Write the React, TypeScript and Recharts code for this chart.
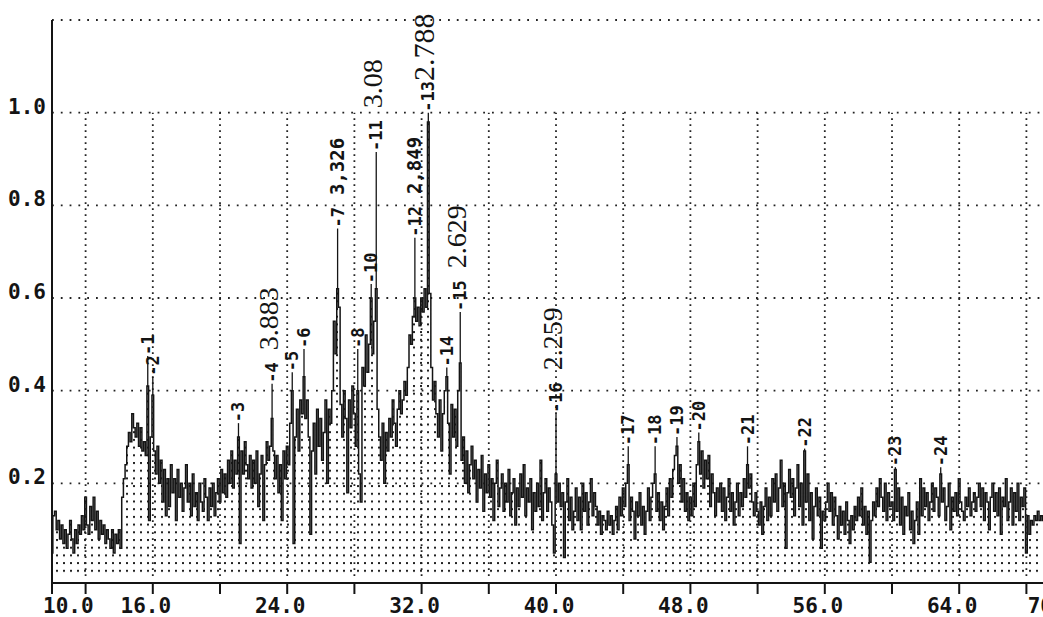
import React from "react";
import { ComposedChart, Area, XAxis, YAxis, CartesianGrid, ReferenceLine, ReferenceDot } from "recharts";

// scan: 10.0 .. 70.0 deg 2-theta, 0.1 deg step
const SCAN_START = 10;
const SCAN_STEP = 0.1;

// relative intensity, one row per degree
const INTENSITY = [
  0.05, 0.13, 0.14, 0.10, 0.12, 0.08, 0.11, 0.07, 0.10, 0.06, // 10
  0.09, 0.12, 0.08, 0.05, 0.10, 0.07, 0.11, 0.09, 0.13, 0.10, // 11
  0.17, 0.11, 0.09, 0.15, 0.12, 0.17, 0.10, 0.14, 0.08, 0.12, // 12
  0.09, 0.11, 0.07, 0.10, 0.08, 0.06, 0.10, 0.05, 0.09, 0.07, // 13
  0.10, 0.06, 0.17, 0.21, 0.24, 0.28, 0.31, 0.29, 0.35, 0.32, // 14
  0.30, 0.33, 0.28, 0.32, 0.27, 0.29, 0.26, 0.41, 0.12, 0.30, // 15
  0.39, 0.27, 0.22, 0.28, 0.20, 0.25, 0.16, 0.23, 0.13, 0.21, // 16
  0.15, 0.24, 0.18, 0.21, 0.12, 0.23, 0.17, 0.20, 0.14, 0.19, // 17
  0.24, 0.16, 0.20, 0.13, 0.22, 0.15, 0.18, 0.12, 0.20, 0.16, // 18
  0.14, 0.21, 0.17, 0.12, 0.19, 0.15, 0.20, 0.13, 0.18, 0.21, // 19
  0.16, 0.23, 0.18, 0.22, 0.17, 0.25, 0.20, 0.27, 0.19, 0.25, // 20
  0.22, 0.30, 0.07, 0.27, 0.22, 0.29, 0.24, 0.21, 0.26, 0.19, // 21
  0.25, 0.20, 0.27, 0.15, 0.22, 0.26, 0.12, 0.24, 0.29, 0.25, // 22
  0.28, 0.34, 0.27, 0.21, 0.26, 0.18, 0.24, 0.12, 0.27, 0.21, // 23
  0.28, 0.24, 0.33, 0.40, 0.07, 0.30, 0.36, 0.27, 0.38, 0.35, // 24
  0.43, 0.34, 0.38, 0.30, 0.09, 0.27, 0.33, 0.22, 0.36, 0.28, // 25
  0.34, 0.25, 0.31, 0.38, 0.20, 0.36, 0.33, 0.40, 0.55, 0.48, // 26
  0.62, 0.58, 0.37, 0.30, 0.40, 0.34, 0.18, 0.38, 0.32, 0.41, // 27
  0.35, 0.28, 0.40, 0.22, 0.16, 0.45, 0.41, 0.52, 0.44, 0.50, // 28
  0.60, 0.48, 0.55, 0.62, 0.36, 0.30, 0.25, 0.33, 0.20, 0.31, // 29
  0.27, 0.34, 0.30, 0.38, 0.33, 0.28, 0.36, 0.40, 0.35, 0.38, // 30
  0.42, 0.39, 0.45, 0.52, 0.50, 0.56, 0.60, 0.55, 0.58, 0.54, // 31
  0.60, 0.57, 0.62, 0.58, 0.98, 0.61, 0.45, 0.38, 0.42, 0.35, // 32
  0.30, 0.38, 0.27, 0.35, 0.40, 0.43, 0.33, 0.22, 0.37, 0.30, // 33
  0.36, 0.28, 0.40, 0.46, 0.25, 0.30, 0.20, 0.27, 0.18, 0.24, // 34
  0.28, 0.21, 0.25, 0.16, 0.23, 0.19, 0.26, 0.14, 0.22, 0.18, // 35
  0.24, 0.17, 0.21, 0.12, 0.20, 0.25, 0.15, 0.19, 0.22, 0.14, // 36
  0.20, 0.16, 0.23, 0.13, 0.18, 0.21, 0.11, 0.19, 0.15, 0.22, // 37
  0.17, 0.24, 0.13, 0.19, 0.16, 0.21, 0.10, 0.18, 0.14, 0.20, // 38
  0.15, 0.25, 0.12, 0.18, 0.21, 0.14, 0.19, 0.16, 0.11, 0.05, // 39
  0.22, 0.16, 0.20, 0.15, 0.18, 0.04, 0.16, 0.21, 0.12, 0.17, // 40
  0.10, 0.14, 0.19, 0.12, 0.17, 0.10, 0.20, 0.14, 0.18, 0.11, // 41
  0.16, 0.21, 0.13, 0.18, 0.15, 0.11, 0.14, 0.09, 0.13, 0.12, // 42
  0.10, 0.14, 0.11, 0.13, 0.09, 0.12, 0.15, 0.10, 0.17, 0.13, // 43
  0.19, 0.15, 0.20, 0.24, 0.12, 0.17, 0.14, 0.08, 0.16, 0.13, // 44
  0.18, 0.11, 0.15, 0.09, 0.14, 0.19, 0.12, 0.17, 0.20, 0.22, // 45
  0.14, 0.18, 0.12, 0.16, 0.10, 0.15, 0.19, 0.13, 0.21, 0.17, // 46
  0.23, 0.26, 0.28, 0.20, 0.24, 0.16, 0.21, 0.14, 0.18, 0.12, // 47
  0.17, 0.13, 0.20, 0.15, 0.24, 0.29, 0.22, 0.27, 0.19, 0.25, // 48
  0.21, 0.26, 0.15, 0.22, 0.18, 0.13, 0.19, 0.16, 0.20, 0.14, // 49
  0.19, 0.12, 0.17, 0.21, 0.14, 0.18, 0.11, 0.16, 0.20, 0.13, // 50
  0.18, 0.15, 0.21, 0.17, 0.24, 0.19, 0.22, 0.16, 0.13, 0.18, // 51
  0.14, 0.11, 0.16, 0.09, 0.15, 0.19, 0.12, 0.17, 0.13, 0.21, // 52
  0.16, 0.22, 0.14, 0.19, 0.25, 0.15, 0.20, 0.06, 0.18, 0.23, // 53
  0.17, 0.21, 0.13, 0.19, 0.24, 0.15, 0.20, 0.11, 0.27, 0.16, // 54
  0.22, 0.12, 0.18, 0.08, 0.15, 0.19, 0.13, 0.17, 0.06, 0.14, // 55
  0.12, 0.16, 0.20, 0.14, 0.18, 0.11, 0.17, 0.13, 0.08, 0.15, // 56
  0.11, 0.14, 0.09, 0.16, 0.12, 0.07, 0.13, 0.10, 0.15, 0.12, // 57
  0.17, 0.13, 0.19, 0.11, 0.15, 0.09, 0.14, 0.03, 0.12, 0.16, // 58
  0.13, 0.19, 0.15, 0.21, 0.17, 0.14, 0.20, 0.12, 0.18, 0.15, // 59
  0.16, 0.12, 0.23, 0.14, 0.19, 0.11, 0.17, 0.09, 0.15, 0.13, // 60
  0.18, 0.10, 0.14, 0.07, 0.12, 0.16, 0.09, 0.21, 0.13, 0.19, // 61
  0.15, 0.18, 0.12, 0.16, 0.20, 0.14, 0.19, 0.17, 0.13, 0.22, // 62
  0.16, 0.19, 0.12, 0.15, 0.20, 0.10, 0.17, 0.14, 0.18, 0.13, // 63
  0.21, 0.16, 0.14, 0.12, 0.17, 0.15, 0.19, 0.13, 0.16, 0.18, // 64
  0.14, 0.17, 0.20, 0.15, 0.19, 0.12, 0.18, 0.16, 0.10, 0.17, // 65
  0.20, 0.14, 0.18, 0.13, 0.19, 0.09, 0.17, 0.15, 0.21, 0.12, // 66
  0.16, 0.19, 0.11, 0.18, 0.14, 0.20, 0.12, 0.17, 0.15, 0.19, // 67
  0.05, 0.13, 0.09, 0.12, 0.11, 0.13, 0.12, 0.14, 0.12, 0.13, // 68
  0.12, 0.11, 0.13, 0.12, 0.14, 0.12, 0.13, 0.11, 0.12, 0.13, // 69
  0.12, // 70
];

// peak markers: number, 2-theta, spike top, height where the label starts, d-spacing text
const PEAKS = [
  { no: 1, tt: 15.7, top: 0.41, label: 0.475 },
  { no: 2, tt: 16.0, top: 0.39, label: 0.43 },
  { no: 3, tt: 21.1, top: 0.30, label: 0.33 },
  { no: 4, tt: 23.1, top: 0.34, label: 0.415, d: "3.883", dFont: "serif" },
  { no: 5, tt: 24.3, top: 0.40, label: 0.44 },
  { no: 6, tt: 25.0, top: 0.43, label: 0.49 },
  { no: 7, tt: 27.0, top: 0.62, label: 0.75, d: "3,326", dFont: "mono" },
  { no: 8, tt: 28.2, top: 0.40, label: 0.49 },
  { no: 10, tt: 29.0, top: 0.60, label: 0.63 },
  { no: 11, tt: 29.3, top: 0.62, label: 0.915, d: "3.08", dFont: "serif" },
  { no: 12, tt: 31.6, top: 0.60, label: 0.73, d: "2,849", dFont: "mono" },
  { no: 13, tt: 32.4, top: 0.98, label: 1.0, d: "2.788", dFont: "serif" },
  { no: 14, tt: 33.5, top: 0.43, label: 0.45 },
  { no: 15, tt: 34.3, top: 0.46, label: 0.57, d: "2.629", dFont: "serif" },
  { no: 16, tt: 40.0, top: 0.22, label: 0.35, d: "2.259", dFont: "serif" },
  { no: 17, tt: 44.3, top: 0.24, label: 0.28 },
  { no: 18, tt: 45.9, top: 0.22, label: 0.28 },
  { no: 19, tt: 47.2, top: 0.28, label: 0.30 },
  { no: 20, tt: 48.5, top: 0.29, label: 0.31 },
  { no: 21, tt: 51.4, top: 0.24, label: 0.28 },
  { no: 22, tt: 54.8, top: 0.27, label: 0.275 },
  { no: 23, tt: 60.2, top: 0.23, label: 0.235 },
  { no: 24, tt: 62.9, top: 0.22, label: 0.235 },
];

const X_TICKS = [10, 12, 16, 20, 24, 28, 32, 36, 40, 44, 48, 52, 56, 60, 64, 68, 70];
const X_LABELS: Record<number, string> = {
  10: "10.0", 16: "16.0", 24: "24.0", 32: "32.0", 40: "40.0",
  48: "48.0", 56: "56.0", 64: "64.0", 70: "70.0",
};
const GRID_X = [12, 16, 20, 24, 28, 32, 36, 40, 44, 48, 52, 56, 60, 64, 68];
const Y_TICKS = [0.2, 0.4, 0.6, 0.8, 1.0];

const MONO = "'DejaVu Sans Mono', monospace";
const SERIF = "'Liberation Serif', 'DejaVu Serif', serif";
const INK = "#141414";

const data = INTENSITY.map((v, i) => ({ tt: Number((SCAN_START + i * SCAN_STEP).toFixed(1)), v }));

function XTick({ x, y, payload }: any) {
  const lbl = X_LABELS[payload.value];
  if (!lbl) return null;
  const first = payload.value === 10;
  return (
    <text
      x={first ? x - 9 : x - 7}
      y={y + 17}
      textAnchor={first ? "start" : "middle"}
      fontFamily={MONO}
      fontWeight="bold"
      fontSize={21}
      fill={INK}
    >
      {lbl}
    </text>
  );
}

function YTick({ x, y, payload }: any) {
  return (
    <text x={x} y={y + 1} textAnchor="end" fontFamily={MONO} fontWeight="bold" fontSize={21} fill={INK}>
      {payload.value.toFixed(1)}
    </text>
  );
}

function PeakLabel({ cx, cy, peak }: any) {
  if (cx == null || cy == null) return null;
  const joined = peak.no === 13;
  const serif = peak.dFont === "serif";
  return (
    <text
      x={cx + 1}
      y={cy + 6}
      transform={`rotate(-90 ${cx} ${cy})`}
      fill={INK}
      fontFamily={MONO}
      fontWeight="bold"
      fontSize={17}
    >
      <tspan>{`-${peak.no}`}</tspan>
      {peak.d && (
        <tspan
          dx={joined ? 0 : 12}
          fontFamily={serif ? SERIF : MONO}
          fontWeight={serif ? "normal" : "bold"}
          fontSize={serif ? (joined ? 30 : 28) : 19}
        >
          {peak.d}
        </tspan>
      )}
    </text>
  );
}

export default function App() {
  return (
    <div style={{ position: "absolute", left: 0, top: 0, width: 1043, height: 617, overflow: "hidden", background: "#fff" }}>
      <ComposedChart width={1080} height={617} data={data} margin={{ top: 20, right: 20, bottom: 0, left: 0 }}>
        <defs>
          <pattern id="dots" width={7} height={7.7} patternUnits="userSpaceOnUse">
            <rect x={0} y={0} width={2} height={2} fill="#222" />
          </pattern>
        </defs>
        <CartesianGrid vertical={false} stroke="#222" strokeWidth={1.8} strokeDasharray="1.8 7" />
        <XAxis
          dataKey="tt"
          type="number"
          domain={[10, 70]}
          ticks={X_TICKS}
          interval={0}
          height={34}
          axisLine={{ stroke: INK, strokeWidth: 2 }}
          tickLine={{ stroke: INK, strokeWidth: 2 }}
          tickSize={11}
          tick={<XTick />}
        />
        <YAxis
          type="number"
          domain={[-0.015, 1.2]}
          ticks={Y_TICKS}
          interval={0}
          width={52}
          axisLine={{ stroke: INK, strokeWidth: 2 }}
          tickLine={false}
          tickSize={0}
          tickMargin={6}
          tick={<YTick />}
        />
        {GRID_X.map((gx) => (
          <ReferenceLine
            key={`g${gx}`}
            segment={[{ x: gx, y: 0 }, { x: gx, y: 1.0 }]}
            stroke="#222"
            strokeWidth={1.8}
            strokeDasharray="1.8 4.2"
          />
        ))}
        <Area
          type="step"
          dataKey="v"
          stroke={INK}
          strokeWidth={1.5}
          fill="url(#dots)"
          fillOpacity={1}
          isAnimationActive={false}
          dot={false}
          activeDot={false}
        />
        {PEAKS.filter((p) => p.label > p.top).map((p) => (
          <ReferenceLine
            key={`c${p.no}`}
            segment={[{ x: p.tt, y: p.top }, { x: p.tt, y: p.label }]}
            stroke={INK}
            strokeWidth={1.3}
          />
        ))}
        {PEAKS.map((p) => (
          <ReferenceDot
            key={`p${p.no}`}
            x={p.tt}
            y={p.label}
            r={1}
            ifOverflow="visible"
            shape={(props: any) => <PeakLabel {...props} peak={p} />}
          />
        ))}
      </ComposedChart>
    </div>
  );
}
